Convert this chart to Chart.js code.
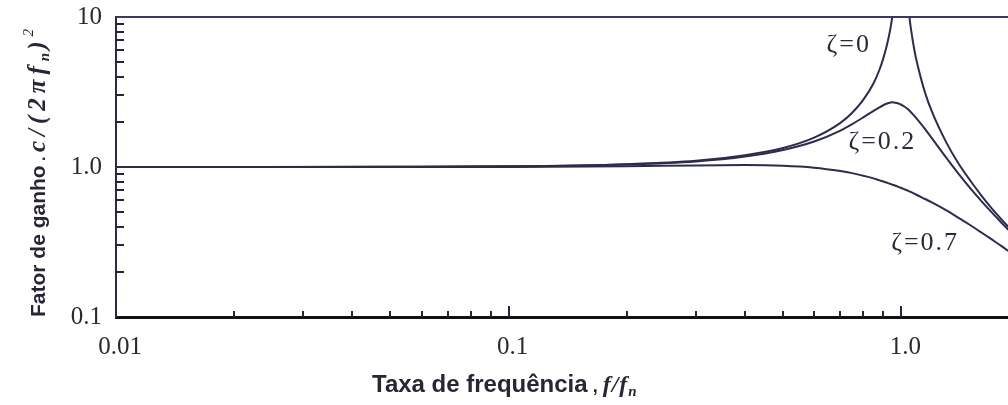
<!DOCTYPE html>
<html>
<head>
<meta charset="utf-8">
<script src="https://cdn.jsdelivr.net/npm/chart.js@4.4.0/dist/chart.umd.min.js"></script>
<style>
  html, body { margin: 0; padding: 0; background: #fff; }
  #wrap { width: 1008px; height: 405px; }
</style>
</head>
<body>
<div id="wrap"><canvas id="myChart"></canvas></div>
<script>
// Razão de frequência f/fn (eixo x)
const razao = [0.01, 0.02, 0.05, 0.1, 0.2, 0.3, 0.4, 0.5, 0.6, 0.7, 0.75, 0.8, 0.85, 0.88, 0.9, 0.92, 0.94, 0.95, 0.96, 0.98, 1.0,
               1.02, 1.04, 1.05, 1.06, 1.08, 1.1, 1.15, 1.2, 1.3, 1.4, 1.5, 1.6, 1.7, 1.8, 1.9]

// Fator de ganho para cada amortecimento
const ganhoZeta0 = [1.0, 1.0, 1.003, 1.01, 1.045, 1.1, 1.2, 1.34, 1.57, 1.97, 2.3, 2.8, 3.62, 4.45, 5.3, 6.55, 8.6, 10.3, 12.8, 25.3, null,
                    24.8, 12.3, 9.8, 8.1, 6.0, 4.8, 3.12, 2.3, 1.47, 1.05, 0.81, 0.645, 0.53, 0.447, 0.383]
const ganhoZeta02 = [1.0, 1.0, 1.002, 1.01, 1.04, 1.09, 1.175, 1.3, 1.48, 1.75, 1.93, 2.14, 2.37, 2.5, 2.58, 2.65, 2.69, 2.7, 2.69, 2.66, 2.6,
                     2.52, 2.43, 2.37, 2.31, 2.19, 2.07, 1.79, 1.54, 1.16, 0.9, 0.72, 0.593, 0.498, 0.425, 0.368]
const ganhoZeta07 = [1.0, 1.0, 1.0, 1.0, 1.01, 1.025, 1.03, 1.02, 0.99, 0.94, 0.91, 0.875, 0.84, 0.815, 0.8, 0.785, 0.77, 0.762, 0.755, 0.74, 0.725,
                     0.71, 0.695, 0.687, 0.68, 0.664, 0.648, 0.612, 0.578, 0.515, 0.458, 0.409, 0.366, 0.329, 0.297, 0.268]

const nomesCurvas = ['ζ=0', 'ζ=0.2', 'ζ=0.7']

// Marcas dos eixos
const ticksX = [0.01, 0.1, 1]
const rotulosX = ['0.01', '0.1', '1.0']
const ticksY = [0.1, 1, 10]
const rotulosY = ['0.1', '1.0', '10']
const menoresX = [0.02, 0.03, 0.04, 0.05, 0.06, 0.07, 0.08, 0.09, 0.2, 0.3, 0.4, 0.5, 0.6, 0.7, 0.8, 0.9]
const menoresY = [0.2, 0.3, 0.4, 0.5, 0.6, 0.7, 0.8, 0.9, 2, 3, 4, 5, 6, 7, 8, 9]

const corLinha = '#2c2c4e'
const corTitulo = '#2a2533'

function pontos(ys) {
  return razao.map((r, i) => ({x: r, y: ys[i]}))
}

// desenha um texto composto por pedaços com fontes diferentes
function escreveTrechos(ctx, trechos, x0, y0) {
  let x = x0
  for (const t of trechos) {
    ctx.font = t.font
    ctx.letterSpacing = t.esp || '0px'
    ctx.fillText(t.txt, x, y0 + (t.dy || 0))
    x += ctx.measureText(t.txt).width
  }
  ctx.letterSpacing = '0px'
}

const extras = {
  id: 'extras',
  afterDatasetsDraw(chart) {
    const {ctx, chartArea: a, scales: {x, y}} = chart
    ctx.save()

    // linha superior no 10
    ctx.strokeStyle = '#3a3a5e'
    ctx.lineWidth = 2
    ctx.beginPath()
    ctx.moveTo(a.left, a.top)
    ctx.lineTo(a.right, a.top)
    ctx.stroke()

    // marcas menores voltadas para dentro
    ctx.strokeStyle = '#24243c'
    ctx.lineWidth = 2
    ctx.beginPath()
    for (const v of menoresY) {
      const py = Math.round(y.getPixelForValue(v))
      ctx.moveTo(a.left, py)
      ctx.lineTo(a.left + 8, py)
    }
    for (const v of menoresX) {
      const px = Math.round(x.getPixelForValue(v))
      ctx.moveTo(px, a.bottom)
      ctx.lineTo(px, a.bottom - 6)
    }
    for (const v of [0.1, 1]) {
      const px = Math.round(x.getPixelForValue(v))
      ctx.moveTo(px, a.bottom)
      ctx.lineTo(px, a.bottom - 11)
    }
    ctx.stroke()

    // nomes das curvas
    const posNomes = [[0.735, 6.5], [0.895, 1.47], [1.15, 0.31]]
    ctx.fillStyle = '#2a2a3a'
    ctx.textAlign = 'center'
    ctx.textBaseline = 'middle'
    ctx.font = '26px "Liberation Serif"'
    ctx.letterSpacing = '2px'
    nomesCurvas.forEach((n, i) => {
      const [vx, vy] = posNomes[i]
      ctx.fillText(n, x.getPixelForValue(vx), y.getPixelForValue(vy))
    })
    ctx.letterSpacing = '0px'

    // título do eixo x
    ctx.textAlign = 'left'
    ctx.textBaseline = 'alphabetic'
    ctx.fillStyle = corTitulo
    escreveTrechos(ctx, [
      {txt: 'Taxa de frequência', font: 'bold 24px "Liberation Sans"'},
      {txt: ' , ', font: 'bold 18px "Liberation Sans"'},
      {txt: 'f/f', font: 'italic bold 24px "Liberation Serif"', esp: '1px'},
      {txt: 'n', font: 'italic bold 15px "Liberation Serif"', dy: 4}
    ], 372, 392)

    // título do eixo y (rotacionado)
    ctx.translate(45, 317)
    ctx.rotate(-Math.PI / 2)
    escreveTrechos(ctx, [
      {txt: 'Fator de ganho', font: 'bold 21px "Liberation Sans"'},
      {txt: ' . ', font: 'bold 16px "Liberation Sans"'},
      {txt: 'c/(2πf', font: 'italic bold 25px "Liberation Serif"', esp: '5px'},
      {txt: 'n', font: 'italic bold 15px "Liberation Serif"', dy: 4, esp: '3px'},
      {txt: ')', font: 'italic bold 25px "Liberation Serif"', esp: '5px'},
      {txt: '2', font: 'italic 15px "Liberation Serif"', dy: -12}
    ], 0, 0)

    ctx.restore()
  }
}

const ctx = document.getElementById('myChart')

const estiloCurva = {
  borderColor: corLinha,
  borderWidth: 2,
  pointRadius: 0,
  fill: false,
  cubicInterpolationMode: 'monotone',
  spanGaps: false
}

new Chart(ctx, {
  type: 'line',
  data: {
    datasets: [
      {label: nomesCurvas[0], data: pontos(ganhoZeta0), ...estiloCurva},
      {label: nomesCurvas[1], data: pontos(ganhoZeta02), ...estiloCurva},
      {label: nomesCurvas[2], data: pontos(ganhoZeta07), ...estiloCurva}
    ]
  },
  options: {
    responsive: true,
    maintainAspectRatio: false,
    animation: false,
    layout: {padding: {top: 17, right: 0, left: 0, bottom: 0}},
    plugins: {
      legend: {display: false},
      tooltip: {enabled: false}
    },
    scales: {
      x: {
        type: 'logarithmic',
        min: 0.01,
        max: 1.87,
        afterBuildTicks: s => { s.ticks = ticksX.map(v => ({value: v})) },
        afterFit: s => { s.height = 405 - 317; s.paddingLeft = 0; s.paddingRight = 0 },
        grid: {display: true, drawOnChartArea: false, drawTicks: false},
        border: {display: true, color: '#111', width: 3},
        ticks: {
          autoSkip: false,
          maxRotation: 0,
          padding: 15,
          labelOffset: 4,
          color: '#2a2a2a',
          font: {family: 'Liberation Serif', size: 25},
          callback: (v, i) => rotulosX[i]
        }
      },
      y: {
        type: 'logarithmic',
        min: 0.1,
        max: 10,
        afterBuildTicks: s => { s.ticks = ticksY.map(v => ({value: v})) },
        afterFit: s => { s.width = 116; s.paddingTop = 0; s.paddingBottom = 0 },
        grid: {display: true, drawOnChartArea: false, drawTicks: false},
        border: {display: true, color: '#2a2a44', width: 2},
        ticks: {
          autoSkip: false,
          padding: 14,
          color: '#2a2a2a',
          font: {family: 'Liberation Serif', size: 25},
          callback: (v, i) => rotulosY[i]
        }
      }
    }
  },
  plugins: [extras]
})
</script>
</body>
</html>
